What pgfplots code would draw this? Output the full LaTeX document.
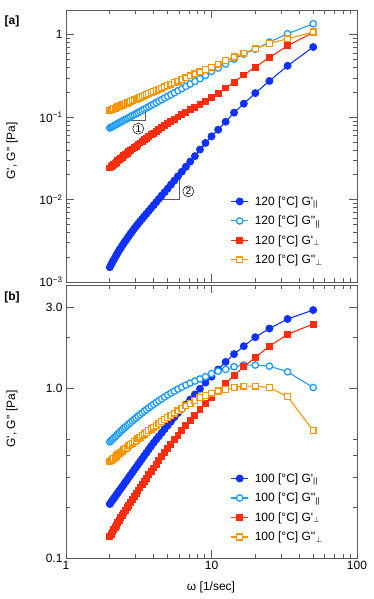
\documentclass[border=0pt]{standalone}
\usepackage{fontspec}
\setmainfont{Liberation Sans}[Ligatures=TeXOff]
\usepackage{pgfplots}
\usepackage{pgfplotstable}
\pgfplotsset{compat=1.18}

\definecolor{cBlue}{RGB}{15,50,255}
\definecolor{cSky}{RGB}{30,155,255}
\definecolor{cRed}{RGB}{255,45,15}
\definecolor{cOrange}{RGB}{255,150,0}
\definecolor{frameC}{RGB}{90,90,90}

% panel [a], 120 C
\pgfplotstableread{
w      gpar    gppar   gperp   gpperp
2.000  0.00151 0.0740  0.0242  0.1211
2.041  0.00162 0.0754  0.0250  0.1230
2.083  0.00174 0.0770  0.0258  0.1249
2.128  0.00186 0.0785  0.0267  0.1269
2.174  0.00198 0.0801  0.0275  0.1289
2.222  0.00213 0.0819  0.0285  0.1312
2.273  0.00228 0.0838  0.0295  0.1335
2.326  0.00244 0.0856  0.0306  0.1358
2.381  0.00260 0.0876  0.0316  0.1382
2.439  0.00277 0.0895  0.0327  0.1406
2.500  0.00297 0.0918  0.0340  0.1433
2.564  0.00316 0.0940  0.0352  0.1461
2.632  0.00337 0.0963  0.0366  0.1489
2.703  0.00361 0.0989  0.0380  0.1520
2.778  0.00387 0.1016  0.0396  0.1552
2.857  0.00413 0.1044  0.0411  0.1585
2.941  0.00444 0.1074  0.0429  0.1621
3.030  0.00473 0.1103  0.0446  0.1655
3.125  0.00508 0.1138  0.0466  0.1696
3.226  0.00545 0.1174  0.0486  0.1738
3.333  0.00583 0.1211  0.0508  0.1781
3.448  0.00626 0.1252  0.0532  0.1828
3.571  0.00673 0.1295  0.0556  0.1876
3.704  0.00728 0.1341  0.0583  0.1929
3.846  0.00786 0.1390  0.0611  0.1983
4.000  0.00854 0.1443  0.0642  0.2043
4.167  0.00931 0.1502  0.0676  0.2108
4.348  0.0102  0.1563  0.0711  0.2175
4.545  0.0112  0.1634  0.0751  0.2252
4.762  0.0123  0.1709  0.0793  0.2332
5.000  0.0136  0.1791  0.0839  0.2417
5.263  0.0152  0.1880  0.0889  0.2513
5.556  0.0170  0.1983  0.0945  0.2619
5.882  0.0192  0.2097  0.1006  0.2736
6.250  0.0218  0.2222  0.1071  0.2862
6.667  0.0250  0.2364  0.1144  0.3006
7.143  0.0289  0.2527  0.1226  0.3167
7.692  0.0337  0.2714  0.1316  0.3347
8.333  0.0405  0.2933  0.1419  0.3557
9.091  0.0487  0.321   0.155   0.377
10.00  0.0585  0.359   0.174   0.406
11.11  0.0705  0.395   0.196   0.441
12.50  0.0881  0.441   0.226   0.489
14.29  0.1135  0.507   0.267   0.537
16.67  0.146   0.583   0.325   0.600
20.00  0.196   0.670   0.406   0.676
25.00  0.275   0.816   0.531   0.785
33.33  0.421   1.03    0.736   0.895
50.00  0.710   1.36    1.07    1.08
}\tabA

% panel [b], 100 C
\pgfplotstableread{
w      gpar    gppar   gperp   gpperp
2.000  0.2080  0.4831  0.1340  0.3698
2.041  0.2132  0.4918  0.1381  0.3755
2.083  0.2186  0.5005  0.1423  0.3811
2.128  0.2241  0.5093  0.1466  0.3869
2.174  0.2297  0.5183  0.1511  0.3927
2.222  0.2361  0.5284  0.1562  0.3993
2.273  0.2427  0.5384  0.1614  0.4059
2.326  0.2496  0.5486  0.1667  0.4126
2.381  0.2566  0.5589  0.1722  0.4193
2.439  0.2637  0.5692  0.1778  0.4262
2.500  0.2719  0.5807  0.1842  0.4337
2.564  0.2803  0.5922  0.1908  0.4414
2.632  0.2889  0.6039  0.1975  0.4492
2.703  0.2987  0.6166  0.2051  0.4578
2.778  0.3087  0.6293  0.2129  0.4664
2.857  0.3192  0.6424  0.2210  0.4751
2.941  0.3309  0.6564  0.2299  0.4847
3.030  0.3420  0.6696  0.2385  0.4936
3.125  0.3555  0.6850  0.2488  0.5042
3.226  0.3695  0.7003  0.2594  0.5150
3.333  0.3841  0.7160  0.2704  0.5257
3.448  0.4004  0.7326  0.2826  0.5375
3.571  0.4173  0.7493  0.2952  0.5495
3.704  0.4362  0.7674  0.3091  0.5623
3.846  0.4559  0.7852  0.3235  0.5754
4.000  0.4778  0.8043  0.3393  0.5894
4.167  0.4990  0.8245  0.3568  0.6045
4.348  0.5212  0.8447  0.3748  0.6197
4.545  0.5470  0.8670  0.3957  0.6368
4.762  0.5741  0.8892  0.4174  0.6542
5.000  0.6040  0.9125  0.4412  0.6728
5.263  0.6370  0.9365  0.4670  0.6924
5.556  0.6752  0.9623  0.4965  0.7141
5.882  0.7139  0.9888  0.5286  0.7370
6.250  0.7555  1.0158  0.5632  0.7612
6.667  0.8035  1.0442  0.6025  0.7876
7.143  0.8578  1.0735  0.6462  0.8161
7.692  0.9201  1.1036  0.6953  0.8471
8.333  0.993   1.135   0.7513  0.8810
9.091  1.08    1.17    0.816   0.905
10.00  1.17    1.22    0.885   0.935
11.11  1.29    1.26    0.964   0.964
12.50  1.43    1.29    1.07    0.986
14.29  1.59    1.34    1.19    1.01
16.67  1.77    1.37    1.34    1.03
20.00  2.00    1.37    1.52    1.03
25.00  2.25    1.35    1.77    1.01
33.33  2.56    1.25    2.08    0.893
50.00  2.89    1.01    2.39    0.563
}\tabB

\pgfplotsset{
  sPar/.style={color=cBlue, line width=1.1pt, mark=*, mark size=3.4pt,
    mark options={solid, fill=cBlue, draw=cBlue}},
  sPPar/.style={color=cSky, line width=1.1pt, mark=*, mark size=3.2pt,
    mark options={solid, fill=white, draw=cSky, line width=1.3pt}},
  sPerp/.style={color=cRed, line width=1.1pt, mark=square*, mark size=2.9pt,
    mark options={solid, fill=cRed, draw=cRed}},
  sPPerp/.style={color=cOrange, line width=1.1pt, mark=square*, mark size=2.9pt,
    mark options={solid, fill=white, draw=cOrange, line width=1.3pt}},
}

\begin{document}
\begin{tikzpicture}
\useasboundingbox (0pt,0pt) rectangle (374pt,599pt);

% ---- panel [a]
\begin{axis}[
  at={(66pt,317pt)}, anchor=south west,
  scale only axis, width=291pt, height=272pt,
  xmode=log, ymode=log, xmin=1, xmax=100, ymin=1e-3, ymax=2,
  axis line style={draw=frameC, line width=0.9pt},
  tick style={draw=frameC, line width=0.7pt},
  major tick length=8pt, minor tick length=4.5pt, tick align=inside,
  xtick={1,10,100}, xticklabels={},
  minor xtick={2,3,4,5,6,7,8,9,20,30,40,50,60,70,80,90},
  ytick={0.001,0.01,0.1,1},
  yticklabels={10\textsuperscript{−3},10\textsuperscript{−2},10\textsuperscript{−1},1},
  minor ytick={0.002,0.003,0.004,0.005,0.006,0.007,0.008,0.009,
    0.02,0.03,0.04,0.05,0.06,0.07,0.08,0.09,0.2,0.3,0.4,0.5,0.6,0.7,0.8,0.9,2},
  tick label style={font=\fontsize{12}{14}\selectfont},
  legend style={draw=none, fill=none, at={(0.565,0.323)}, anchor=north west,
    font=\fontsize{12}{14}\selectfont, row sep=5.3pt, inner sep=0pt,
    /tikz/every odd column/.append style={column sep=4pt}},
  legend cell align=left,
]
\addplot[sPar] table[x=w,y=gpar]{\tabA};
\addplot[sPPar] table[x=w,y=gppar]{\tabA};
\addplot[sPerp] table[x=w,y=gperp]{\tabA};
\addplot[sPPerp] table[x=w,y=gpperp]{\tabA};
\legend{120 [°C] G'\textsubscript{||}, 120 [°C] G''\textsubscript{||},
  120 [°C] G'$_{\perp}$, 120 [°C] G''$_{\perp}$}
% slope guides
\draw[black, line width=0.5pt] (axis cs:2,0.074) -- (axis cs:10.03,0.371);
\draw[frameC, line width=0.6pt] (axis cs:2.49,0.092) -- (axis cs:3.53,0.092) -- (axis cs:3.53,0.1306);
\node[circle, draw=black, line width=0.5pt, inner sep=0pt, minimum size=11pt,
  font=\fontsize{10}{10}\selectfont] at (axis cs:3.14,0.0726) {1};
\draw[black, line width=0.5pt] (axis cs:3.03,0.0053) -- (axis cs:9.27,0.0496);
\draw[frameC, line width=0.6pt] (axis cs:4.16,0.01) -- (axis cs:6.01,0.01) -- (axis cs:6.01,0.0208);
\node[circle, draw=black, line width=0.5pt, inner sep=0pt, minimum size=11pt,
  font=\fontsize{10}{10}\selectfont] at (axis cs:6.93,0.0126) {2};
\end{axis}

% ---- panel [b]
\begin{axis}[
  at={(66pt,41pt)}, anchor=south west,
  scale only axis, width=291pt, height=273pt,
  xmode=log, ymode=log, xmin=1, xmax=100, ymin=0.1, ymax=4.06,
  axis line style={draw=frameC, line width=0.9pt},
  tick style={draw=frameC, line width=0.7pt},
  major tick length=8pt, minor tick length=4.5pt, tick align=inside,
  xtick={1,10,100}, xticklabels={1,10,100},
  minor xtick={2,3,4,5,6,7,8,9,20,30,40,50,60,70,80,90},
  ytick={0.1,1,3}, yticklabels={0.1,1.0,3.0},
  minor ytick={0.2,0.3,0.4,0.5,2},
  tick label style={font=\fontsize{12}{14}\selectfont},
  legend style={draw=none, fill=none, at={(0.565,0.318)}, anchor=north west,
    font=\fontsize{12}{14}\selectfont, row sep=5.3pt, inner sep=0pt,
    /tikz/every odd column/.append style={column sep=4pt}},
  legend cell align=left,
]
\addplot[sPar] table[x=w,y=gpar]{\tabB};
\addplot[sPPar] table[x=w,y=gppar]{\tabB};
\addplot[sPerp] table[x=w,y=gperp]{\tabB};
\addplot[sPPerp] table[x=w,y=gpperp]{\tabB};
\legend{100 [°C] G'\textsubscript{||}, 100 [°C] G''\textsubscript{||},
  100 [°C] G'$_{\perp}$, 100 [°C] G''$_{\perp}$}
\end{axis}

% labels
\node[font=\bfseries\fontsize{12}{14}\selectfont] at (12pt,578pt) {[a]};
\node[font=\bfseries\fontsize{12}{14}\selectfont] at (12pt,302pt) {[b]};
\node[rotate=90, font=\fontsize{12}{14}\selectfont] at (12pt,448pt) {G', G'' [Pa]};
\node[rotate=90, font=\fontsize{12}{14}\selectfont] at (12pt,180pt) {G', G'' [Pa]};
\node[font=\fontsize{12}{14}\selectfont] at (211pt,12pt) {ω [1/sec]};
\end{tikzpicture}
\end{document}
